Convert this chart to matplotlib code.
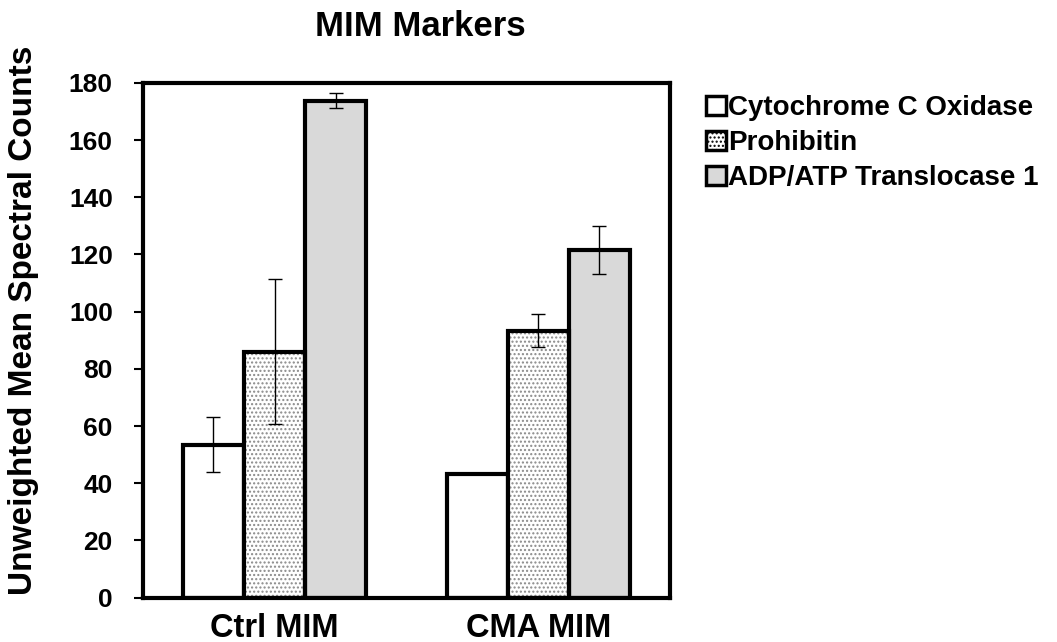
import matplotlib
matplotlib.use('Agg')
import matplotlib.pyplot as plt
import numpy as np
from matplotlib.patches import Patch

plt.rcParams['font.family'] = ['Liberation Sans', 'DejaVu Sans']
plt.rcParams['font.weight'] = 'bold'

groups = ['Ctrl MIM', 'CMA MIM']
series = ['Cytochrome C Oxidase', 'Prohibitin', 'ADP/ATP Translocase 1']
cyto = [53.5, 43.3]
cyto_err = [9.5, 0.0]
prohib = [86.0, 93.3]
prohib_err = [25.3, 5.8]
adp = [173.8, 121.6]
adp_err = [2.6, 8.5]

fig = plt.figure(figsize=(10.57, 6.42), dpi=100)
ax = fig.add_axes([0.135, 0.069, 0.499, 0.802])

x = np.arange(len(groups))
w = 0.232
lw = 3

ax.bar(x - w, cyto, w, color='white', edgecolor='black', linewidth=lw, zorder=2)
# stipple fill drawn under a plain outline so the hatch stays light grey
ax.bar(x, prohib, w, color='white', edgecolor='#8a8a8a', hatch='....',
       linewidth=0, zorder=2)
ax.bar(x, prohib, w, color='none', edgecolor='black', linewidth=lw, zorder=3)
ax.bar(x + w, adp, w, color='#d9d9d9', edgecolor='black', linewidth=lw, zorder=2)

for off, vals, errs in [(-w, cyto, cyto_err), (0, prohib, prohib_err), (w, adp, adp_err)]:
    for xi, v, e in zip(x + off, vals, errs):
        if e > 0:
            ax.errorbar(xi, v, yerr=e, fmt='none', ecolor='black',
                        elinewidth=1, capsize=5, capthick=1, zorder=4)

ax.set_xlim(-0.5, 1.5)
ax.set_ylim(0, 180)
ax.set_yticks(range(0, 181, 20))
ax.set_xticks(x)
ax.set_xticklabels(groups, fontsize=23.5, fontweight='bold')
ax.tick_params(axis='x', length=0, pad=11)
ax.tick_params(axis='y', labelsize=19, width=1.5, length=6.5, pad=15,
               direction='out')
for s in ax.spines.values():
    s.set_linewidth(3)

ax.set_ylabel('Unweighted Mean Spectral Counts', fontsize=24,
              fontweight='bold')
ax.yaxis.set_label_coords(-0.197, 0.538)
fig.text(0.398, 0.958, 'MIM Markers', ha='center', va='center',
         fontsize=25, fontweight='bold')

handles = [
    Patch(facecolor='white', edgecolor='black', linewidth=2.5),
    Patch(facecolor='white', edgecolor='black', hatch='....', linewidth=2.5),
    Patch(facecolor='#d9d9d9', edgecolor='black', linewidth=2.5),
]
fig.legend(handles, series, loc='upper left', bbox_to_anchor=(0.668, 0.852),
           frameon=False, handlelength=0.7, handleheight=0.7,
           handletextpad=0.1, labelspacing=0.33, borderaxespad=0,
           borderpad=0, prop={'weight': 'bold', 'size': 20})

fig.savefig('out.png', dpi=100)
